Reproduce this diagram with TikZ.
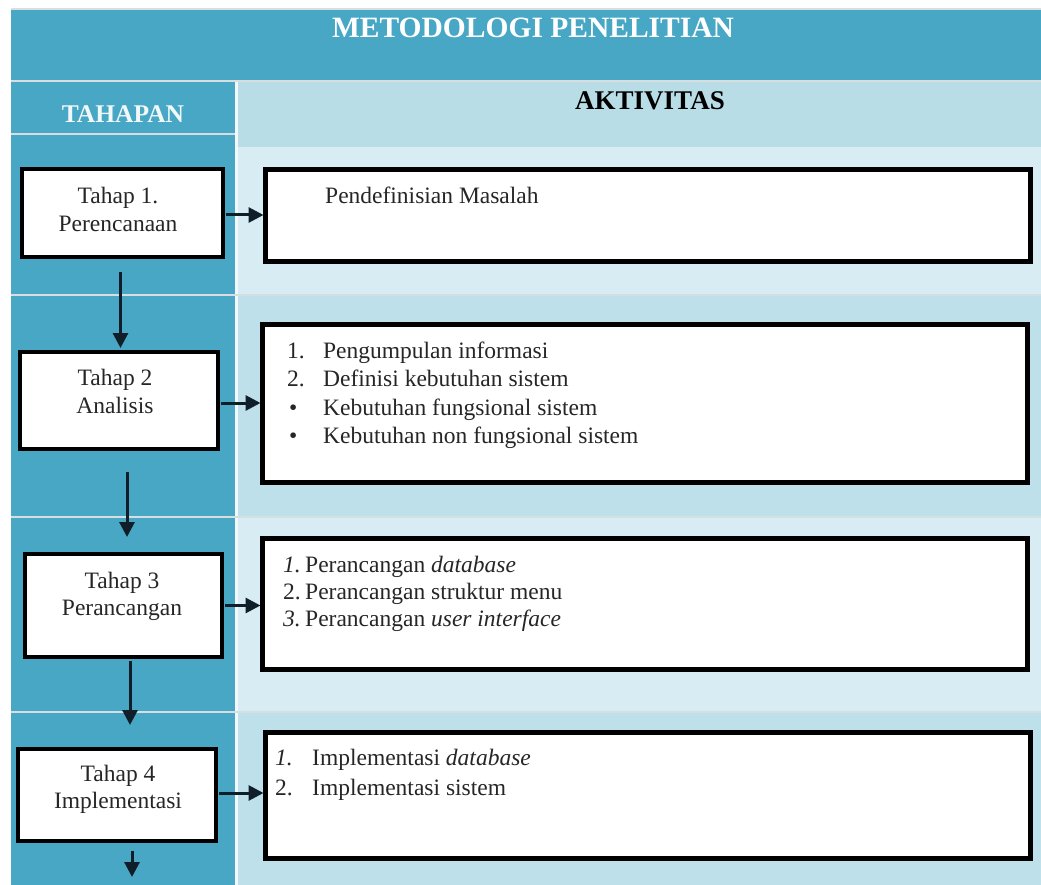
\documentclass[tikz,border=0pt]{standalone}
\usepackage{fontspec}
\setmainfont{Liberation Serif}
\usetikzlibrary{arrows.meta}

\definecolor{bandTeal}{HTML}{47A7C4}
\definecolor{headLight}{HTML}{B8DDE7}
\definecolor{rowPale}{HTML}{D7ECF3}
\definecolor{rowBlue}{HTML}{BEE0EA}
\definecolor{rule}{HTML}{D6DEE2}
\definecolor{inkDark}{HTML}{262626}
\definecolor{arrowInk}{HTML}{0F1E28}

\newcommand{\bodysize}{\fontsize{23.5}{28.5}\selectfont}

\begin{document}
\begin{tikzpicture}[x=1pt,y=-1pt,
  stagebox/.style={draw=black, line width=4.5pt, fill=white, inner sep=0pt, outer sep=0pt},
  actbox/.style={draw=black, line width=4.5pt, fill=white, inner sep=0pt, outer sep=0pt},
  bodytext/.style={inner sep=0pt, text=inkDark, font=\bodysize},
  flow/.style={line width=3pt, draw=arrowInk, -{Triangle[length=15pt,width=15pt]}}
]
\useasboundingbox (0,0) rectangle (1041,885);
\fill[white] (0,0) rectangle (1041,885);

% title band
\fill[rule] (11,8) rectangle (1041,10);
\fill[bandTeal] (11,10) rectangle (1041,80);
\fill[rule] (11,80) rectangle (1041,82);

% stage column and activity column backgrounds
\fill[bandTeal] (11,82) rectangle (235,885);
\fill[white!70!rowPale] (235,82) rectangle (238,885);
\fill[headLight] (238,82) rectangle (1041,147);
\fill[rowPale] (238,147) rectangle (1041,294);
\fill[rowBlue] (238,296) rectangle (1041,516);
\fill[rowPale] (238,518) rectangle (1041,711);
\fill[rowBlue] (238,713) rectangle (1041,885);

% row separators
\fill[rule] (11,133) rectangle (235,135);
\fill[rule] (11,294) rectangle (1041,296);
\fill[rule] (11,516) rectangle (1041,518);
\fill[rule] (11,711) rectangle (1041,713);

% headings
\node[text=white, font=\fontsize{29.5}{32}\selectfont\bfseries, anchor=base, inner sep=0pt] (title) at (533,38) {METODOLOGI PENELITIAN};
\node[text=white!92!bandTeal, font=\fontsize{25.5}{28}\selectfont\bfseries, anchor=base, inner sep=0pt] (colA) at (123,123) {TAHAPAN};
\node[text=black, font=\fontsize{27}{28}\selectfont\bfseries, anchor=base, inner sep=0pt] (colB) at (650,110) {AKTIVITAS};

% stage boxes
\node[stagebox, minimum width=201pt, minimum height=88pt] (s1) at (122.5,213) {};
\node[stagebox, minimum width=198pt, minimum height=97pt] (s2) at (119,400.5) {};
\node[stagebox, minimum width=197pt, minimum height=103pt] (s3) at (123.5,605.5) {};
\node[stagebox, minimum width=198pt, minimum height=92pt] (s4) at (117,795) {};

\node[bodytext, anchor=base, font=\fontsize{23.5}{28}\selectfont] (t1) at (118,204) {\begin{tabular}[t]{@{}c@{}}Tahap 1.\\Perencanaan\end{tabular}};
\node[bodytext, anchor=base, font=\fontsize{23.5}{28}\selectfont] (t2) at (115,385) {\begin{tabular}[t]{@{}c@{}}Tahap 2\\Analisis\end{tabular}};
\node[bodytext, anchor=base, font=\fontsize{23.5}{27}\selectfont] (t3) at (122,588) {\begin{tabular}[t]{@{}c@{}}Tahap 3\\Perancangan\end{tabular}};
\node[bodytext, anchor=base, font=\fontsize{23.5}{27}\selectfont] (t4) at (118,781) {\begin{tabular}[t]{@{}c@{}}Tahap 4\\Implementasi\end{tabular}};

% activity boxes
\node[actbox, minimum width=765pt, minimum height=92pt] (r1) at (648,215.5) {};
\node[actbox, minimum width=765pt, minimum height=158pt] (r2) at (645,403.5) {};
\node[actbox, minimum width=765pt, minimum height=131pt] (r3) at (645,604) {};
\node[actbox, minimum width=765pt, minimum height=126pt] (r4) at (648,795.5) {};

\node[bodytext, anchor=base west] (a1) at (325,204) {Pendefinisian Masalah};
\node[bodytext, anchor=base west] (a2) at (287,358) {\begin{tabular}[t]{@{}p{36pt}@{}l@{}}
1. & Pengumpulan informasi\\
2. & Definisi kebutuhan sistem\\
\hspace{2pt}\textbullet & Kebutuhan fungsional sistem\\
\hspace{2pt}\textbullet & Kebutuhan non fungsional sistem
\end{tabular}};
\node[bodytext, anchor=base west, font=\fontsize{23.5}{27}\selectfont] (a3) at (283,572) {\begin{tabular}[t]{@{}p{22pt}@{}l@{}}
\textit{1.}\hspace{-4pt} & Perancangan \textit{database}\\
2. & Perancangan struktur menu\\
\textit{3.} & Perancangan \textit{user interface}
\end{tabular}};
\node[bodytext, anchor=base west, font=\fontsize{23.5}{30}\selectfont] (a4) at (275,765) {\begin{tabular}[t]{@{}p{37pt}@{}l@{}}
\textit{1.} & Implementasi \textit{database}\\
2. & Implementasi sistem
\end{tabular}};

% stage to activity
\draw[flow, shorten <=3pt, shorten >=2pt] ([yshift=-2pt]s1.east) -- ([yshift=-2pt]s1.east -| r1.west);
\draw[flow, shorten <=3pt, shorten >=2pt] ([yshift=-2.5pt]s2.east) -- ([yshift=-2.5pt]s2.east -| r2.west);
\draw[flow, shorten <=3pt, shorten >=2pt] (s3.east) -- (s3.east -| r3.west);
\draw[flow, shorten <=3pt, shorten >=2pt] ([yshift=2pt]s4.east) -- ([yshift=2pt]s4.east -| r4.west);

% stage to stage
\draw[flow, shorten <=15pt, shorten >=4pt] ([xshift=-2pt]s1.south) -- ([xshift=1.5pt]s2.north);
\draw[flow, shorten <=23pt, shorten >=17pt] ([xshift=8pt]s2.south) -- ([xshift=3.5pt]s3.north);
\draw[flow, shorten <=4pt, shorten >=24pt] ([xshift=6.5pt]s3.south) -- ([xshift=13pt]s4.north);
\coordinate (next) at (132,877);
\draw[flow, shorten <=10pt] ([xshift=15pt]s4.south) -- (next);
\end{tikzpicture}
\end{document}
